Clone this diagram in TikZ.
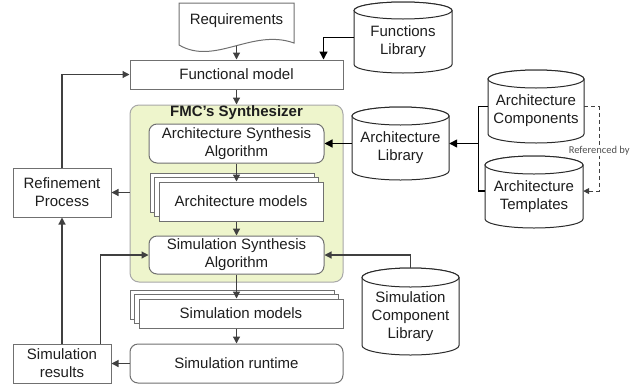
\documentclass[tikz,border=0pt]{standalone}
\usepackage{fontspec}
\setmainfont{Liberation Sans}
\newfontfamily\notefont{Carlito}
\usetikzlibrary{calc,arrows.meta}

\definecolor{boxline}{HTML}{707070}
\definecolor{flowline}{HTML}{404040}
\definecolor{drumink}{HTML}{2A2A2A}
\definecolor{synfill}{HTML}{EEF5CC}
\definecolor{synline}{HTML}{A8A8A8}
\definecolor{ink}{HTML}{1E1E1E}
\definecolor{noteink}{HTML}{505050}

% cylinder store: name, centre x, top, bottom, width, cap radius, text
\newcommand\drum[7]{%
  \filldraw[drumline] ({#2-#5/2},{-#3-#6}) -- ({#2-#5/2},{-#4+#6})
    arc[start angle=180, end angle=360, x radius=#5/2, y radius=#6]
    -- ({#2+#5/2},{-#3-#6})
    arc[start angle=0, end angle=180, x radius=#5/2, y radius=#6] -- cycle;
  \draw[drumline] (#2,{-#3-#6}) ellipse[x radius=#5/2, y radius=#6];
  \node[drumface, minimum width=#5pt, minimum height={(#4-#3-3*#6)*1pt}]
    (#1) at (#2,{-(#3+#4+#6)/2}) {#7};
}

\begin{document}
\begin{tikzpicture}[x=1pt, y=1pt,
  font=\fontsize{15}{18}\selectfont, text=ink,
  box/.style={draw=boxline, line width=1pt, fill=white, inner sep=0pt, align=center},
  rbox/.style={box, rounded corners=8pt},
  drumline/.style={draw=drumink, line width=1pt, fill=white},
  drumface/.style={inner sep=0pt, align=center},
  flow/.style={draw=flowline, line width=1.2pt, -{Triangle[length=7pt, width=7pt]}},
  feed/.style={draw=black, line width=1.3pt, -{Triangle[length=8pt, width=8pt]}},
  plain/.style={draw=black, line width=1.3pt},
  refline/.style={draw=flowline, line width=1pt, dashed, dash pattern=on 4pt off 3pt,
    -{Triangle[length=6pt, width=6pt]}}
]
\useasboundingbox (0,0) rectangle (644,-386);

% requirements document
\filldraw[box] (179,-45) -- (179,-3) -- (294,-3) -- (294,-43)
  .. controls (252,-28) and (215,-66) .. (179,-45) -- cycle;
\node[inner sep=0pt, minimum width=115pt, minimum height=36pt] (req) at (236.5,-21) {Requirements};

% main flow
\node[box, minimum width=213pt, minimum height=29pt] (fm) at (236.5,-74.5) {Functional model};

\node[draw=synline, line width=1pt, fill=synfill, rounded corners=9pt,
      minimum width=213pt, minimum height=177pt, inner sep=0pt] (syn) at (236.5,-193.5) {};
\node[font=\fontsize{15}{18}\selectfont\bfseries, inner sep=0pt] (synt) at (236.5,-113) {FMC’s Synthesizer};

\node[rbox, minimum width=175pt, minimum height=39pt] (asa) at (236.5,-143.5)
  {Architecture Synthesis\\Algorithm};

\draw[box] (150,-173) rectangle (314,-212);
\draw[box] (154.5,-177.5) rectangle (318.5,-216.5);
\node[box, minimum width=164pt, minimum height=39pt] (am) at (241,-201.5) {Architecture models};

\node[rbox, minimum width=175pt, minimum height=38pt] (ssa) at (236.5,-255)
  {Simulation Synthesis\\Algorithm};

\draw[box] (130,-290) rectangle (334,-319);
\draw[box] (134.5,-294.5) rectangle (338.5,-323.5);
\node[box, minimum width=204pt, minimum height=29pt] (sm) at (241,-313.5) {Simulation models};

\node[rbox, minimum width=213pt, minimum height=39pt] (srt) at (236.5,-363.5) {Simulation runtime};
\node[box, minimum width=98pt, minimum height=39pt] (sres) at (62,-363.5) {Simulation\\results};
\node[box, minimum width=98pt, minimum height=49pt] (ref) at (62,-192.5) {Refinement\\Process};

% libraries
\drum{flib}{403}{2}{73}{98}{8.5}{Functions\\Library}
\drum{alib}{400.5}{107}{180}{97}{9}{Architecture\\Library}
\drum{acomp}{536}{70}{143}{96}{9}{Architecture\\Components}
\drum{atemp}{534}{156}{228}{98}{9}{Architecture\\Templates}
\drum{sclib}{410.5}{268}{355}{97}{9.5}{Simulation\\Component\\Library}

% connectors of the main flow
\draw[flow] ($(req.south)+(0,-7)$) -- (fm.north);
\draw[flow] (fm.south) -- (syn.north);
\draw[flow] (asa.south) -- (asa.south |- am.north);
\draw[flow] (asa.south |- am.south) -- (ssa.north);
\draw[flow] (ssa.south) -- (ssa.south |- sm.north);
\draw[flow] (ssa.south |- sm.south) -- (srt.north);
\draw[flow] (srt.west) -- (sres.east);
\draw[flow] (syn.west |- ref.east) -- (ref.east);
\draw[flow] (ref.north) |- (fm.west);
\draw[flow] (sres.north) -- (ref.south);
\draw[flow] ($(sres.north east)+(-11,0)$) |- (ssa.west);

% connectors from the libraries
\draw[feed] ($(flib.north west)!0.4!(flib.south west)$) -| ($(fm.north east)+(-20,0)$);
\draw[feed] (alib.west |- asa.east) -- (asa.east);
\coordinate (j) at ($(alib.east |- asa.east)+(29,0)$);
\draw[plain] ($(acomp.north west)!0.41!(acomp.south west)$) -| (j)
  |- ($(atemp.north west)!0.38!(atemp.south west)$);
\draw[feed] (j) -- (alib.east |- j);
\draw[flow] ($(sclib.north)+(0,19)$) |- (ssa.east);

% reference between the architecture stores
\draw[refline] ($(acomp.north east)!0.41!(acomp.south east)$) -- ++(15,0) coordinate (k)
  |- ($(atemp.north east)!0.38!(atemp.south east)$);
\node[fill=white, inner sep=1pt, font=\notefont\fontsize{10.5}{12}\selectfont, text=noteink]
  (refby) at (k |- 0,-151) {Referenced by};
\end{tikzpicture}
\end{document}
